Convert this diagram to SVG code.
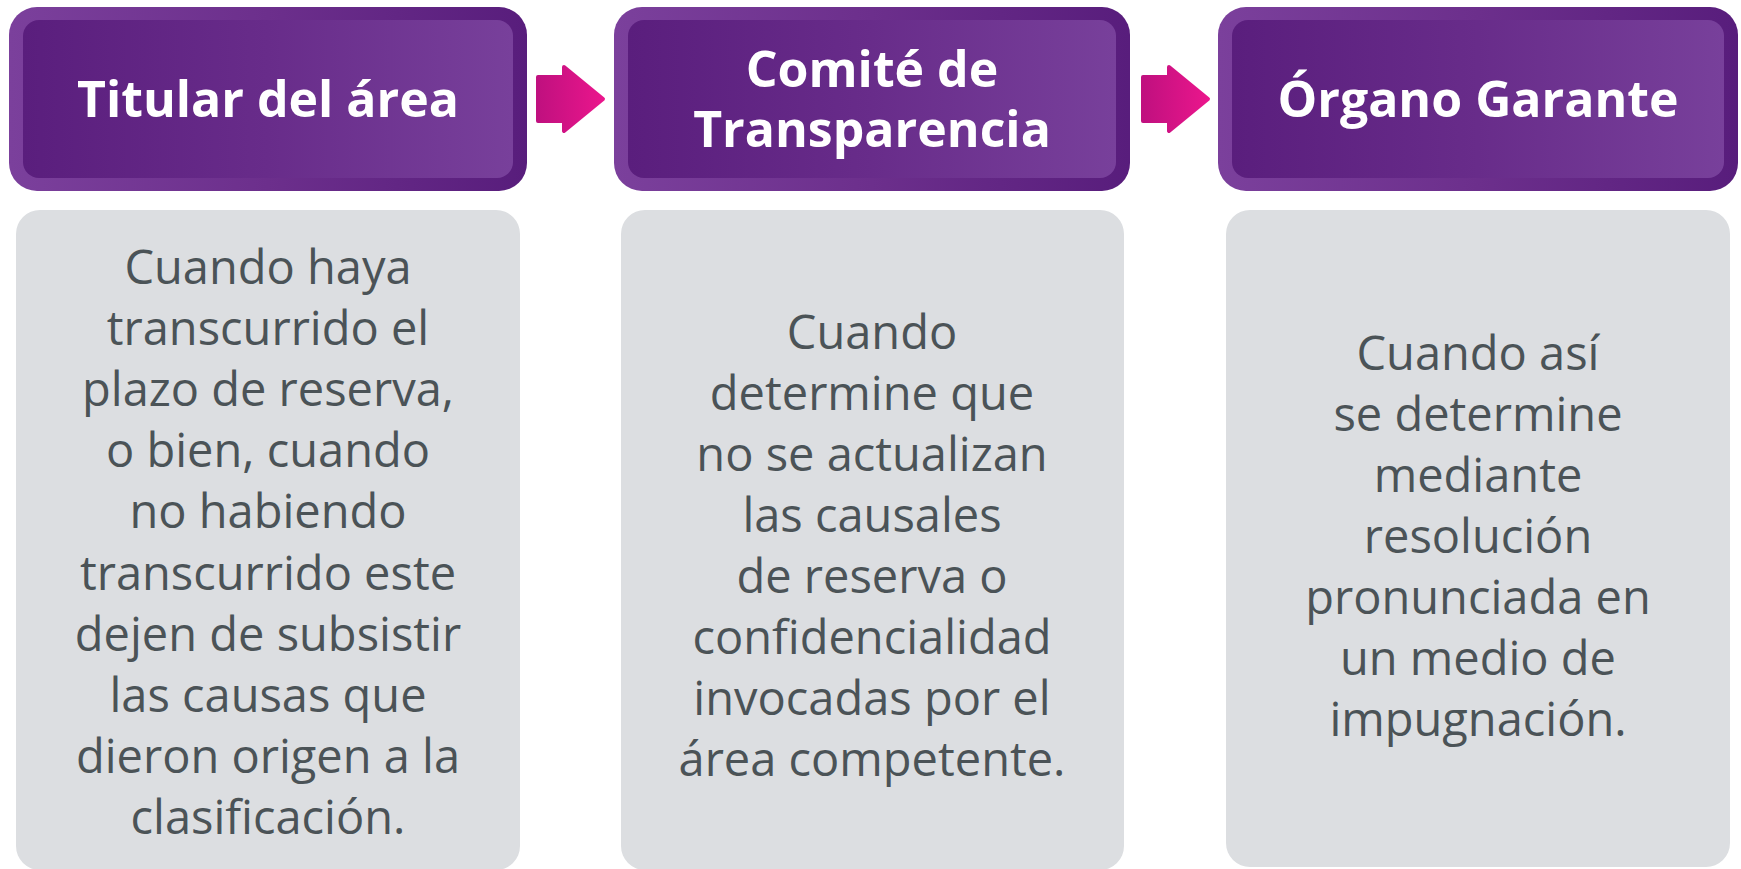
<svg xmlns="http://www.w3.org/2000/svg" width="1741" height="869" viewBox="0 0 1741 869">
  <defs>
    <linearGradient id="rim" x1="0" y1="0" x2="1" y2="0">
      <stop offset="0" stop-color="#7b409c"/>
      <stop offset="0.5" stop-color="#6c2f8c"/>
      <stop offset="1" stop-color="#581d7c"/>
    </linearGradient>
    <linearGradient id="core" x1="0" y1="0" x2="1" y2="0">
      <stop offset="0" stop-color="#5a1e7d"/>
      <stop offset="0.5" stop-color="#682c8a"/>
      <stop offset="1" stop-color="#78409b"/>
    </linearGradient>
    <linearGradient id="arrowGrad" x1="0" y1="0" x2="1" y2="0">
      <stop offset="0" stop-color="#c0107f"/>
      <stop offset="1" stop-color="#ea168c"/>
    </linearGradient>
    <path id="arrowShape" d="M2,12 H28 V2 L67,34 L28,66 V56 H2 Z"/>
  </defs>
  <style>
    .rim { fill: url(#rim); }
    .core { fill: url(#core); }
    .body { fill: #dcdee1; }
    .head { font-family: "Open Sans", "Liberation Sans", sans-serif; font-weight: 700; font-size: 50px; fill: #ffffff; text-anchor: middle; }
    .txt { font-family: "Open Sans", "Liberation Sans", sans-serif; font-size: 47px; fill: #4b5357; text-anchor: middle; }
    .arrow { fill: url(#arrowGrad); stroke: url(#arrowGrad); stroke-width: 4; stroke-linejoin: round; }
  </style>
  <rect width="1741" height="869" fill="#ffffff"/>

  <g id="connectors">
    <use href="#arrowShape" class="arrow" x="536" y="65"/>
    <use href="#arrowShape" class="arrow" x="1141" y="65"/>
  </g>

  <g id="node-titular">
    <rect class="rim" x="9" y="7" width="518" height="184" rx="28"/>
    <rect class="core" x="23" y="20" width="490" height="158" rx="16"/>
    <text class="head" x="268" y="117">Titular del área</text>
  </g>

  <g id="node-comite">
    <rect class="rim" x="614" y="7" width="516" height="184" rx="28"/>
    <rect class="core" x="628" y="20" width="488" height="158" rx="16"/>
    <text class="head" x="872" y="87">Comité de<tspan x="872" y="147">Transparencia</tspan></text>
  </g>

  <g id="node-organo">
    <rect class="rim" x="1218" y="7" width="520" height="184" rx="28"/>
    <rect class="core" x="1232" y="20" width="492" height="158" rx="16"/>
    <text class="head" x="1478" y="117">Órgano Garante</text>
  </g>

  <g id="node-body-titular">
    <rect class="body" x="16" y="210" width="504" height="660" rx="24"/>
    <text class="txt" x="268" y="284">Cuando haya</text>
    <text class="txt" x="268" y="345">transcurrido el</text>
    <text class="txt" x="268" y="406">plazo de reserva,</text>
    <text class="txt" x="268" y="467">o bien, cuando</text>
    <text class="txt" x="268" y="528">no habiendo</text>
    <text class="txt" x="268" y="590">transcurrido este</text>
    <text class="txt" x="268" y="651">dejen de subsistir</text>
    <text class="txt" x="268" y="712">las causas que</text>
    <text class="txt" x="268" y="773">dieron origen a la</text>
    <text class="txt" x="268" y="834">clasificación.</text>
  </g>

  <g id="node-body-comite">
    <rect class="body" x="621" y="210" width="503" height="660" rx="24"/>
    <text class="txt" x="872" y="349">Cuando</text>
    <text class="txt" x="872" y="410">determine que</text>
    <text class="txt" x="872" y="471">no se actualizan</text>
    <text class="txt" x="872" y="532">las causales</text>
    <text class="txt" x="872" y="593">de reserva o</text>
    <text class="txt" x="872" y="654">confidencialidad</text>
    <text class="txt" x="872" y="715">invocadas por el</text>
    <text class="txt" x="872" y="776">área competente.</text>
  </g>

  <g id="node-body-organo">
    <rect class="body" x="1226" y="210" width="504" height="657" rx="24"/>
    <text class="txt" x="1478" y="370">Cuando así</text>
    <text class="txt" x="1478" y="431">se determine</text>
    <text class="txt" x="1478" y="492">mediante</text>
    <text class="txt" x="1478" y="553">resolución</text>
    <text class="txt" x="1478" y="614">pronunciada en</text>
    <text class="txt" x="1478" y="675">un medio de</text>
    <text class="txt" x="1478" y="736">impugnación.</text>
  </g>
</svg>
